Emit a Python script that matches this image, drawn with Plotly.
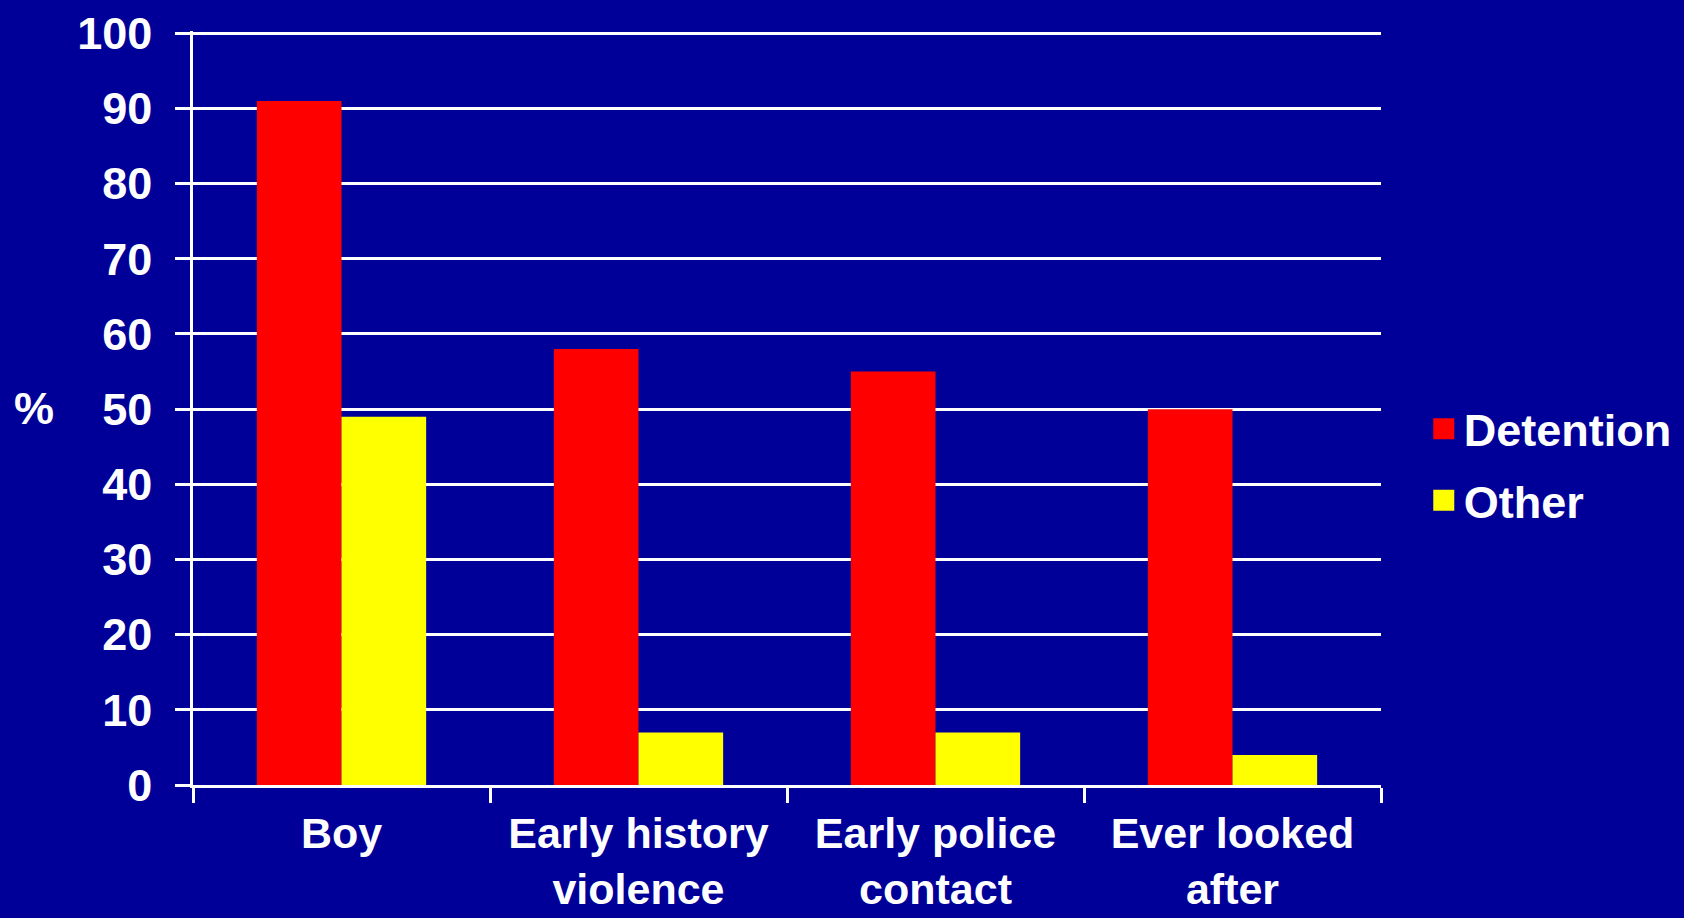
import plotly.graph_objects as go

categories = ["Boy", "Early history<br>violence", "Early police<br>contact", "Ever looked<br>after"]
detention = [91, 58, 55, 50]
other = [49, 7, 7, 4]
y_ticks = [0, 10, 20, 30, 40, 50, 60, 70, 80, 90, 100]
series_names = ["Detention", "Other"]
series_colors = ["#FF0000", "#FFFF00"]

BG = "#000099"
FONT = dict(family="Liberation Sans, Arial, sans-serif", size=45, color="white", weight="bold")

fig = go.Figure()
for name, vals, col in zip(series_names, [detention, other], series_colors):
    fig.add_trace(go.Bar(name=name, x=categories, y=vals, legendgroup=name, showlegend=False,
                         marker=dict(color=col, line=dict(width=0))))
    # legend entry with a larger square swatch
    fig.add_trace(go.Scatter(name=name, x=[None], y=[None], mode="markers", legendgroup=name,
                             hoverinfo="skip",
                             marker=dict(symbol="square", size=16, color=col,
                                         line=dict(width=5, color=col))))

fig.update_layout(
    width=1684, height=918,
    paper_bgcolor=BG, plot_bgcolor=BG,
    margin=dict(l=193, r=303, t=31, b=133, pad=0, autoexpand=False),
    barmode="group", bargap=0.43, bargroupgap=0,
    font=FONT,
    showlegend=True,
    legend=dict(x=1.036, y=0.52, xanchor="left", yanchor="top",
                font=FONT, bgcolor="rgba(0,0,0,0)", itemsizing="trace",
                traceorder="grouped", tracegroupgap=10),
    annotations=[dict(text="%", xref="paper", yref="paper", x=-0.134, y=0.5,
                      xanchor="center", yanchor="middle", showarrow=False, font=FONT)],
)
fig.update_yaxes(range=[0, 100.3], tickvals=y_ticks, showgrid=True, gridcolor="white", gridwidth=2.5,
                 showline=True, linecolor="white", linewidth=2.5, automargin=False,
                 ticks="outside", ticklen=15, tickwidth=2.5, tickcolor="white",
                 ticklabelstandoff=14, zeroline=False, tickfont=FONT, fixedrange=True)
fig.update_xaxes(showline=True, linecolor="white", linewidth=2.5, automargin=False,
                 ticks="outside", ticklen=15, tickwidth=2.5, tickcolor="white",
                 tickson="boundaries", showgrid=False, tickfont=dict(FONT, size=43), tickangle=0,
                 ticklabelstandoff=9, fixedrange=True)

fig.write_html("out.html", config={"displayModeBar": False},
               post_script="document.body.style.margin='0';document.body.style.overflow='hidden';")
